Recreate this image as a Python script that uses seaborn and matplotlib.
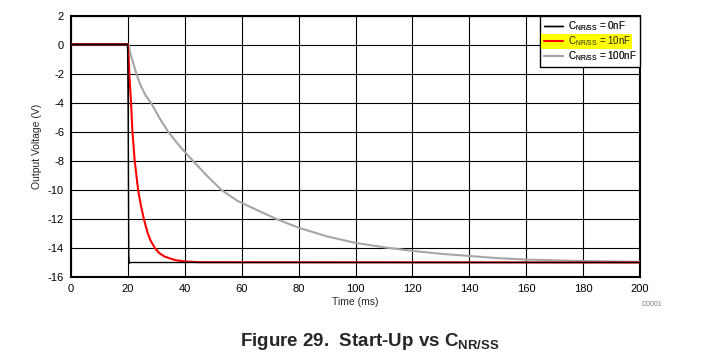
import numpy as np
import pandas as pd
import matplotlib
matplotlib.use("Agg")
import matplotlib.pyplot as plt
from matplotlib.patches import Rectangle
import seaborn as sns

# ---- data ----
t_0nF = [0, 19.9, 20.1, 20.3, 20.5, 21, 40, 100, 200]
v_0nF = [0.05, 0.05, -5.0, -14.5, -15.05, -15.0, -15.0, -15.0, -15.0]

t_10nF = [0, 19.9, 20.3, 20.5, 21.1, 21.6, 22.4, 23.6, 24.5, 25.6, 27, 28, 29.5, 31, 33,
          36.5, 40, 45, 200]
v_10nF = [0.05, 0.05, -1, -2, -4, -6, -8, -10, -11, -12, -13, -13.5, -14, -14.35, -14.6,
          -14.83, -14.93, -14.98, -15.0]

t_100nF = [0, 19.9, 20.3, 21, 22.1, 23, 24.4, 26, 28.3, 31, 34.2, 38.3, 42.9, 47.7, 52.9,
           58.5, 65, 72.2, 80, 90, 100, 110, 120, 130, 140, 150, 160, 180, 200]
v_100nF = [0.05, 0.05, 0.0, -0.7, -1.4, -2, -2.75, -3.4, -4.05, -5, -6, -7, -8, -9, -10,
           -10.75, -11.35, -12, -12.6, -13.2, -13.65, -13.95, -14.2, -14.4, -14.55, -14.7,
           -14.8, -14.9, -14.95]

labels = [r"C$_{\mathregular{NR/SS}}$ = 0nF",
          r"C$_{\mathregular{NR/SS}}$ = 10nF",
          r"C$_{\mathregular{NR/SS}}$ = 100nF"]
colors = ["#000000", "#FF0000", "#A6A6A6"]
widths = [1.0, 1.5, 1.5]

x_ticks = list(range(0, 201, 20))
y_ticks = list(range(-16, 3, 2))

df = pd.concat([
    pd.DataFrame({"t": t_0nF, "v": v_0nF, "s": labels[0]}),
    pd.DataFrame({"t": t_10nF, "v": v_10nF, "s": labels[1]}),
    pd.DataFrame({"t": t_100nF, "v": v_100nF, "s": labels[2]}),
], ignore_index=True)

sns.set_theme(style="white")
plt.rcParams["font.family"] = ["Liberation Sans", "DejaVu Sans"]
plt.rcParams["mathtext.fontset"] = "custom"
plt.rcParams["mathtext.rm"] = "Liberation Sans"
plt.rcParams["axes.unicode_minus"] = False

fig = plt.figure(figsize=(7.14, 3.64), dpi=100)
ax = fig.add_axes([71/714, 1-277/364, (640-71)/714, (277-16)/364])

for lab, col, lw in zip(labels[::-1], colors[::-1], widths[::-1]):
    sub = df[df["s"] == lab]
    sns.lineplot(data=sub, x="t", y="v", color=col, lw=lw, ax=ax, label=lab,
                 estimator=None, sort=False, zorder=3)

ax.set_xlim(0, 200)
ax.set_ylim(-16, 2)
ax.set_xticks(x_ticks)
ax.set_yticks(y_ticks)
ax.grid(True, color="black", lw=0.8)
ax.set_axisbelow(True)
for sp in ax.spines.values():
    sp.set_color("black")
    sp.set_linewidth(1.5)
ax.tick_params(axis="both", length=0, labelsize=8, colors="black", pad=5)
ax.set_xlabel("Time (ms)", fontsize=7.5, labelpad=2)
ax.set_ylabel("Output Voltage (V)", fontsize=7.5, labelpad=4)

handles, labs = ax.get_legend_handles_labels()
order = [labs.index(l) for l in labels]
h = [handles[i] for i in order]
kw = dict(loc="upper right", borderaxespad=0, fontsize=7, handlelength=2.0,
          labelspacing=0.12, handletextpad=0.5, borderpad=0.35, fancybox=False)
leg1 = ax.legend(h, labels, frameon=True, edgecolor="black", framealpha=1, **kw)
leg1.get_frame().set_linewidth(1.0)
leg1.set_zorder(5)
ax.add_artist(leg1)
leg2 = ax.legend(h, labels, frameon=False, **kw)
leg2.set_zorder(7)

fig.canvas.draw()
r = fig.canvas.get_renderer()
tb = leg2.get_texts()[1].get_window_extent(r)
lb = leg2.get_lines()[1].get_window_extent(r)
x0 = min(tb.x0, lb.x0) - 3
x1 = max(tb.x1, lb.x1) + 1
y0 = tb.y0 - 0.5
y1 = tb.y1 + 0.5
rect = Rectangle((x0, y0), x1 - x0, y1 - y0, transform=None, facecolor="#FFFF00",
                 edgecolor="none", zorder=6)
ax.add_artist(rect)

fig.text(652/714, 1-305/364, "D0001", fontsize=5, color="#808080", ha="center", va="center")
fig.text(370/714, 1-341/364, r"Figure 29.  Start-Up vs C$_{\mathregular{NR/SS}}$",
         fontsize=13.5, fontweight="bold", ha="center", va="center")

fig.savefig("out.png", dpi=100)
